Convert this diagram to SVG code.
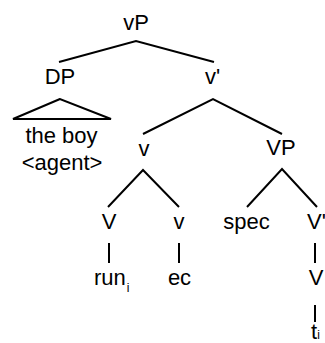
<svg xmlns="http://www.w3.org/2000/svg" width="325" height="343" viewBox="0 0 325 343">
  <style>
    text { font-family: "Liberation Sans", Arial, sans-serif; font-size: 22px; fill: #000; }
    .m { text-anchor: middle; }
    .sub { font-size: 12px; }
    .edge { stroke: #000; stroke-width: 2; fill: none; stroke-linecap: butt; }
  </style>
  <rect width="325" height="343" fill="#fff"/>

  <g id="connectors">
    <polyline class="edge" points="59,62 136,41 214,62"/>
    <polygon class="edge" points="60,99 13,119 111,119"/>
    <polyline class="edge" points="143,134 213,99 282,134"/>
    <polyline class="edge" points="108,207 143,170 179,207"/>
    <polyline class="edge" points="247,207 282,169 317,207"/>
    <line class="edge" x1="109" y1="243" x2="109" y2="263"/>
    <line class="edge" x1="179" y1="243" x2="179" y2="263"/>
    <line class="edge" x1="315" y1="243" x2="315" y2="263"/>
    <line class="edge" x1="315" y1="305" x2="315" y2="322"/>
  </g>

  <g id="node-vP"><text class="m" x="136" y="30">vP</text></g>
  <g id="node-DP"><text class="m" x="60" y="84">DP</text></g>
  <g id="node-the-boy">
    <text class="m" x="61.5" y="143">the boy</text>
    <text class="m" x="62" y="170">&lt;agent&gt;</text>
  </g>
  <g id="node-vbar"><text x="205" y="84">v'</text></g>
  <g id="node-v"><text class="m" x="144" y="156">v</text></g>
  <g id="node-VP"><text class="m" x="281" y="155">VP</text></g>
  <g id="node-V"><text class="m" x="109" y="229">V</text></g>
  <g id="node-v-head"><text class="m" x="179" y="229">v</text></g>
  <g id="node-spec"><text class="m" x="246.5" y="229">spec</text></g>
  <g id="node-Vbar"><text x="307" y="229">V'</text></g>
  <g id="node-run"><text x="94" y="285">run<tspan class="sub" dx="1" dy="7">i</tspan></text></g>
  <g id="node-ec"><text class="m" x="179.5" y="285">ec</text></g>
  <g id="node-V-low"><text class="m" x="316" y="285">V</text></g>
  <g id="node-trace"><text x="311" y="339">t<tspan class="sub">i</tspan></text></g>
</svg>
